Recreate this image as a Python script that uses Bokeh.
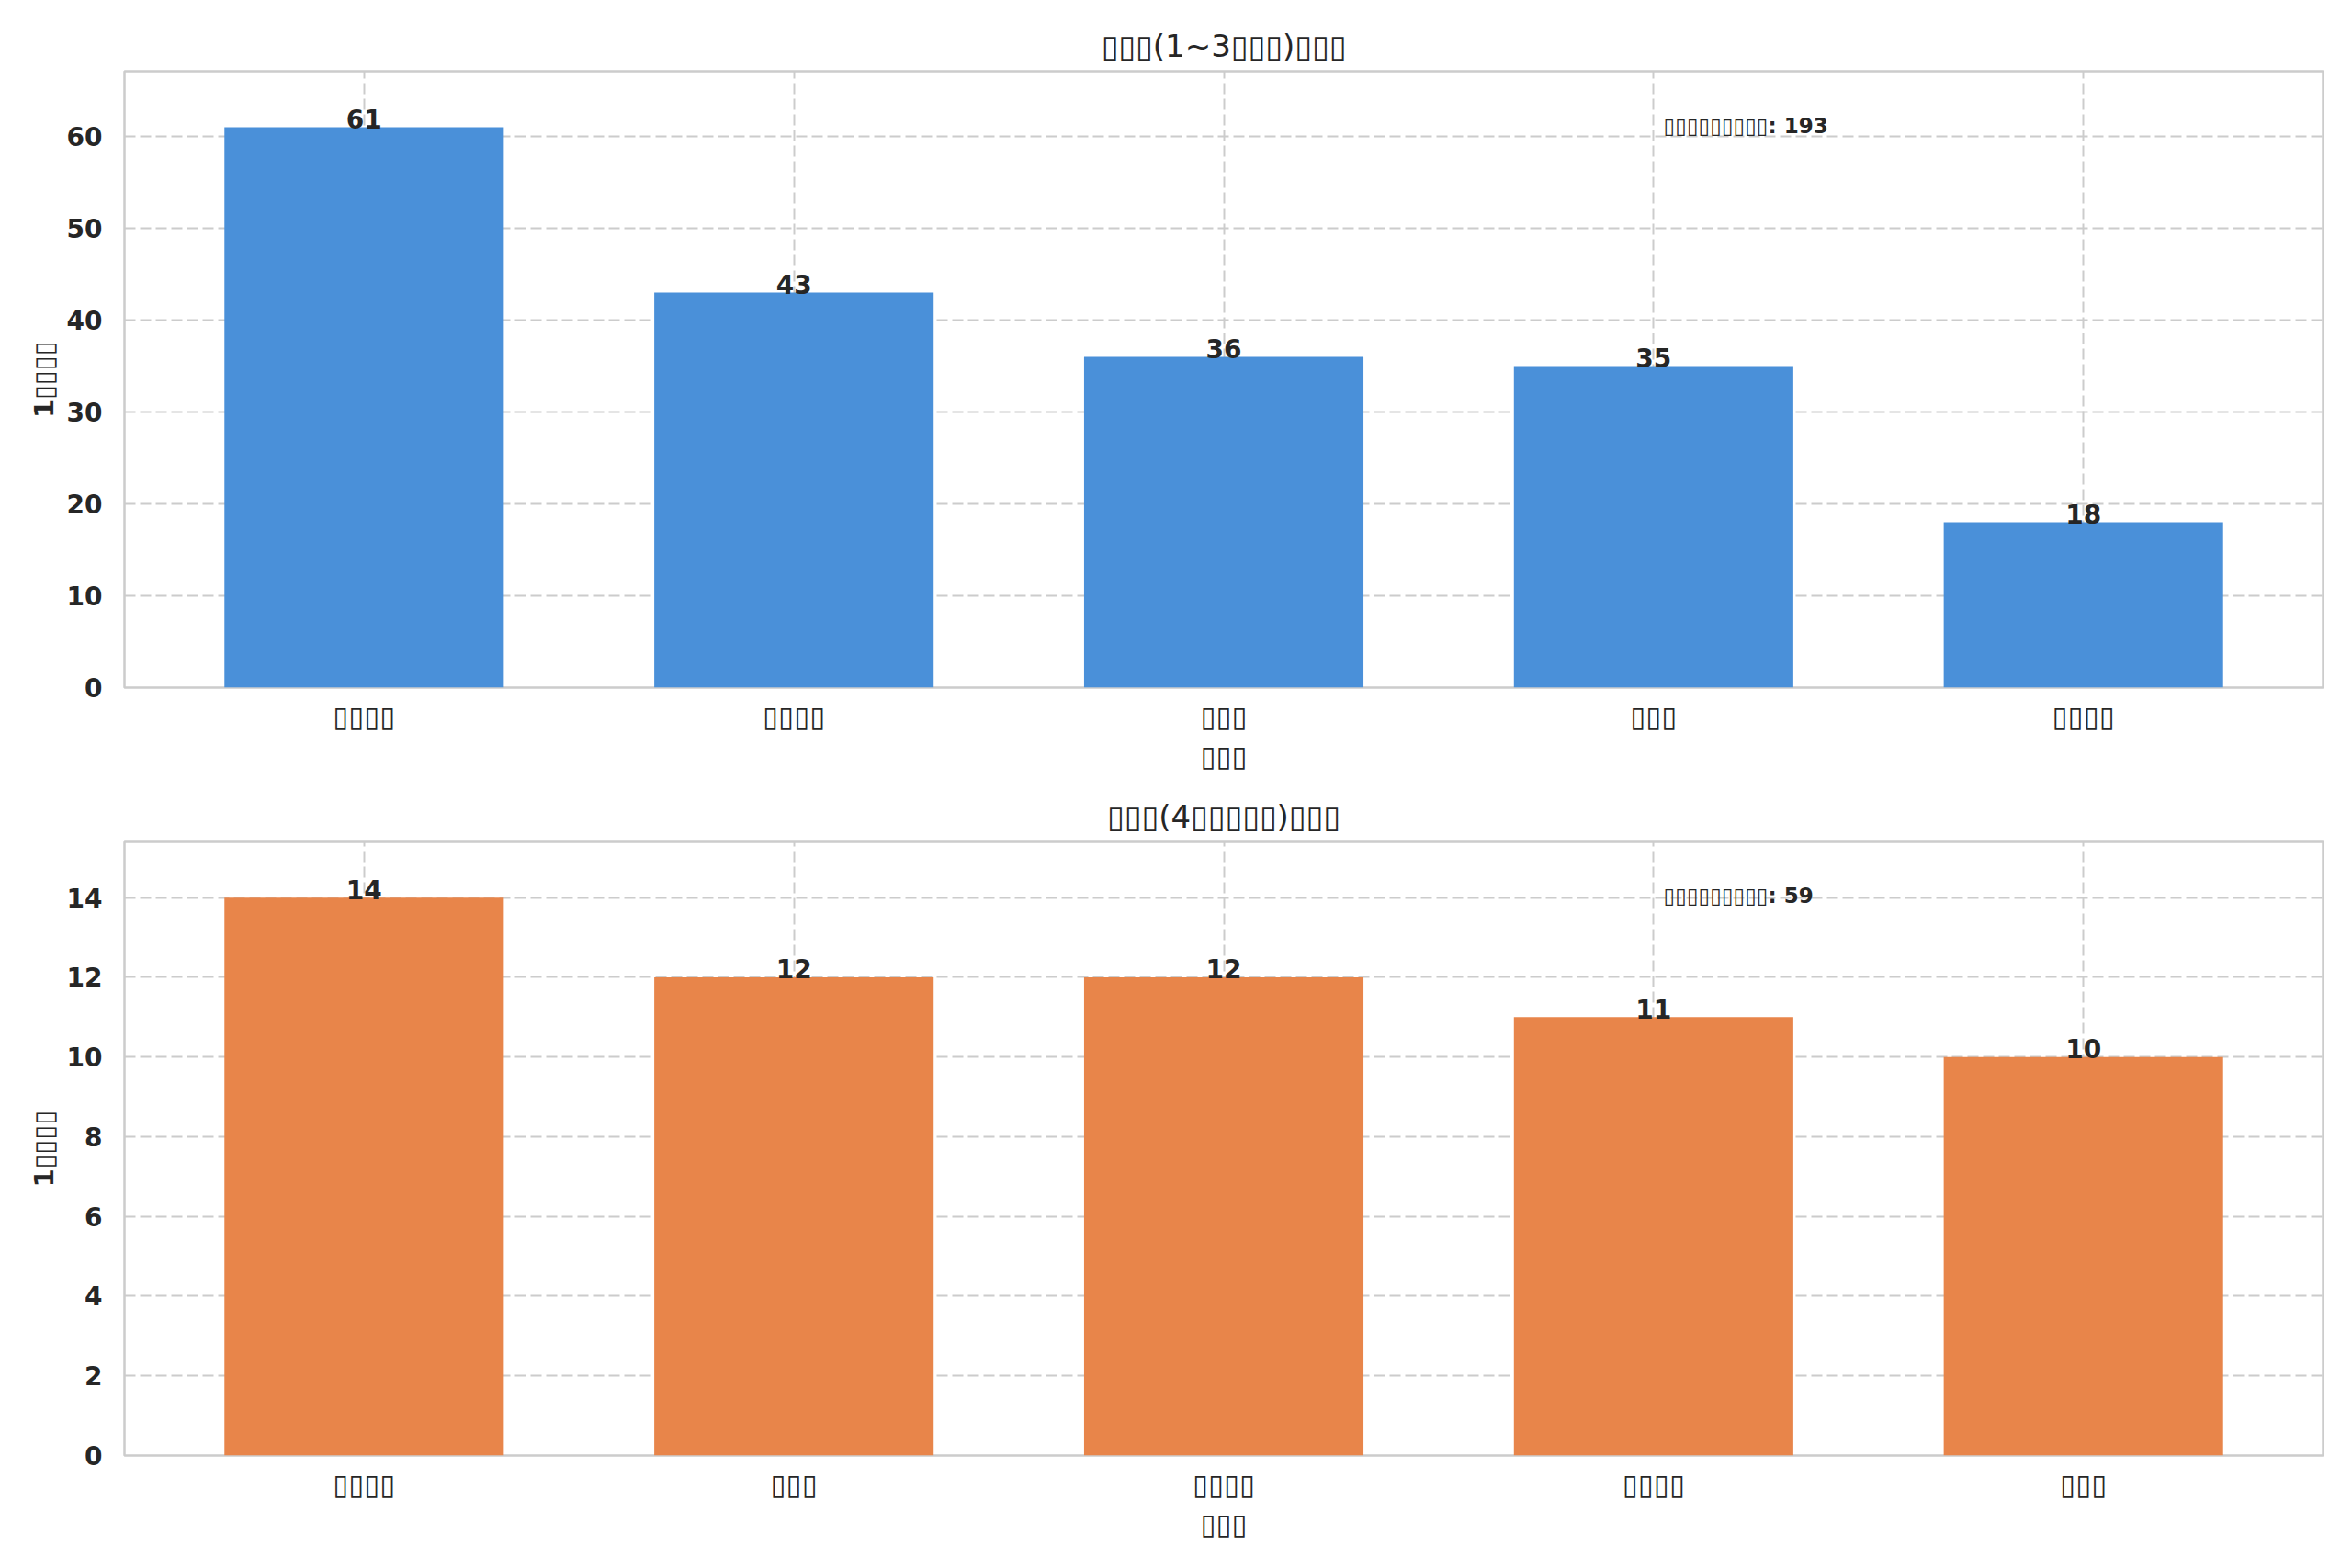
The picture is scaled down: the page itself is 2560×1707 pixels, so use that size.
from bokeh.plotting import figure
from bokeh.models import ColumnDataSource, Range1d, FixedTicker, Label
from bokeh.layouts import column
from bokeh.embed import file_html
from bokeh.resources import INLINE
from bokeh.core.properties import value

# ---- data ----
T = "\u25af"  # glyph placeholder as rendered (missing-glyph boxes)
title1 = T * 3 + "(1~3" + T * 3 + ")" + T * 3
title2 = T * 3 + "(4" + T * 5 + ")" + T * 3
cats1 = [T * 4, T * 4, T * 3, T * 3, T * 4]
vals1 = [61, 43, 36, 35, 18]
cats2 = [T * 4, T * 3, T * 4, T * 4, T * 3]
vals2 = [14, 12, 12, 11, 10]
xlabel = T * 3
ylabel = "1" + T * 4
note_label = T * 9
yticks1 = [0, 10, 20, 30, 40, 50, 60]
yticks2 = [0, 2, 4, 6, 8, 10, 12, 14]
color1 = "#4A90D9"
color2 = "#E8854A"

FONT = "DejaVu Sans"
TXT = "#262626"
GRID = "#cccccc"


def make(title, cats, vals, yticks, color, height, top_b, bot_b):
    n = len(cats)
    xs = list(range(n))
    width = 0.65
    span = (n - 1) + width
    x0 = -width / 2 - 0.05 * span
    x1 = (n - 1) + width / 2 + 0.05 * span
    ymax = max(vals) * 1.1
    p = figure(width=2552, height=height, output_backend="svg", toolbar_location=None,
               x_range=Range1d(x0, x1), y_range=Range1d(0, ymax),
               min_border_left=135, min_border_right=24,
               min_border_top=top_b, min_border_bottom=bot_b)
    p.title.text = title
    p.title.align = "center"
    p.title.text_font = FONT
    p.title.text_font_size = "34px"
    p.title.text_font_style = "normal"
    p.title.text_color = TXT
    p.title.offset = 0
    p.title.standoff = 16

    src = ColumnDataSource(dict(x=xs, top=vals, lab=[str(v) for v in vals]))
    p.vbar(x="x", top="top", width=width, source=src, fill_color=color, line_color=None)
    p.text(x="x", y="top", text="lab", source=src, text_align="center",
           text_baseline="alphabetic", y_offset=-9, text_font=value(FONT),
           text_font_size="28px", text_font_style="bold", text_color=TXT)

    total = sum(vals)
    p.add_layout(Label(x=x0 + 0.7 * (x1 - x0), y=0.9 * ymax, y_offset=8,
                       text=f"{note_label}: {total}",
                       text_font=FONT, text_font_size="23px", text_font_style="bold",
                       text_color=TXT, text_baseline="alphabetic"))

    p.xaxis.ticker = FixedTicker(ticks=xs)
    p.xaxis.major_label_overrides = {i: c for i, c in enumerate(cats)}
    p.yaxis.ticker = FixedTicker(ticks=yticks)
    for ax in (p.xaxis, p.yaxis):
        ax.axis_line_color = None
        ax.major_tick_line_color = None
        ax.minor_tick_line_color = None
        ax.major_label_text_font = FONT
        ax.major_label_text_color = TXT
        ax.axis_label_text_font = FONT
        ax.axis_label_text_color = TXT
    p.xaxis.major_label_text_font_size = "31px"
    p.xaxis.major_label_standoff = 7
    p.xaxis.axis_label = xlabel
    p.xaxis.axis_label_text_font_size = "31px"
    p.xaxis.axis_label_text_font_style = "normal"
    p.xaxis.axis_label_standoff = 4
    p.yaxis.major_label_text_font_size = "28px"
    p.yaxis.major_label_text_font_style = "bold"
    p.yaxis.major_label_standoff = 18
    p.yaxis.axis_label = ylabel
    p.yaxis.axis_label_text_font_size = "29px"
    p.yaxis.axis_label_text_font_style = "bold"
    p.yaxis.axis_label_standoff = 5

    for g in (p.xgrid, p.ygrid):
        g.grid_line_color = GRID
        g.grid_line_width = 2
        g.grid_line_dash = "12 5"
    p.outline_line_color = GRID
    p.outline_line_width = 2.5
    p.background_fill_color = "white"
    p.border_fill_color = "white"
    return p


p1 = make(title1, cats1, vals1, yticks1, color1, 848, 77, 100)
p2 = make(title2, cats2, vals2, yticks2, color2, 843, 68, 107)
layout = column(p1, p2, spacing=0)

open("out.html", "w").write(file_html(layout, INLINE))
